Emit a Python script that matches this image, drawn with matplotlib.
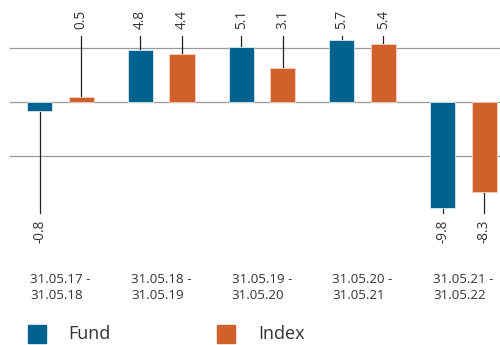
import matplotlib.pyplot as plt
from matplotlib.patches import Rectangle

periods = ["31.05.17 -\n31.05.18", "31.05.18 -\n31.05.19", "31.05.19 -\n31.05.20",
           "31.05.20 -\n31.05.21", "31.05.21 -\n31.05.22"]
fund = [-0.8, 4.8, 5.1, 5.7, -9.8]
index = [0.5, 4.4, 3.1, 5.4, -8.3]

blue = "#00628f"
orange = "#d2602a"
txt = "#333333"

plt.rcParams['font.family'] = ['Open Sans', 'DejaVu Sans']

fig = plt.figure(figsize=(5, 3.45), dpi=100)
ax = fig.add_axes([0, 0, 1, 1])
ax.set_xlim(-0.601, 4.364)
ax.set_ylim(-22.5, 9.44)
ax.axis('off')

# grid lines
for g in [5, 0, -5]:
    ax.plot([-0.5, 4.364], [g, g], color="#999999", lw=0.9, zorder=0)

w = 0.25
off = 0.206
x = list(range(len(periods)))
ax.bar([i - off for i in x], fund, width=w, color=blue, edgecolor="#dbe9f0", lw=0.6, zorder=2)
ax.bar([i + off for i in x], index, width=w, color=orange, edgecolor="#f3d2c0", lw=0.6, zorder=2)

def label(xp, v):
    if v >= 0:
        ax.plot([xp, xp], [v, 6.1], color="#222222", lw=0.9, zorder=1)
        ax.text(xp, 6.75, f"{v:.1f}", rotation=90, ha='center', va='bottom',
                fontsize=9.8, color=txt)
    else:
        ax.plot([xp, xp], [v, -10.3], color="#222222", lw=0.9, zorder=1)
        ax.text(xp, -10.9, f"{v:.1f}", rotation=90, ha='center', va='top',
                fontsize=9.8, color=txt)

for i in x:
    label(i - off, fund[i])
    label(i + off, index[i])

for i, p in zip(x, periods):
    ax.text(i - 0.30, -15.85, p, ha='left', va='top', fontsize=9.6, color=txt, linespacing=1.3)

# legend
fig.patches.append(Rectangle((28 / 500, 2 / 345), 18 / 500, 18 / 345, color=blue,
                             transform=fig.transFigure, figure=fig))
fig.text(68 / 500, 11 / 345, "Fund", fontsize=13, color=txt, va='center', ha='left')
fig.patches.append(Rectangle((217 / 500, 2 / 345), 18 / 500, 18 / 345, color=orange,
                             transform=fig.transFigure, figure=fig))
fig.text(258 / 500, 11 / 345, "Index", fontsize=13, color=txt, va='center', ha='left')

fig.savefig("out.png", dpi=100)
